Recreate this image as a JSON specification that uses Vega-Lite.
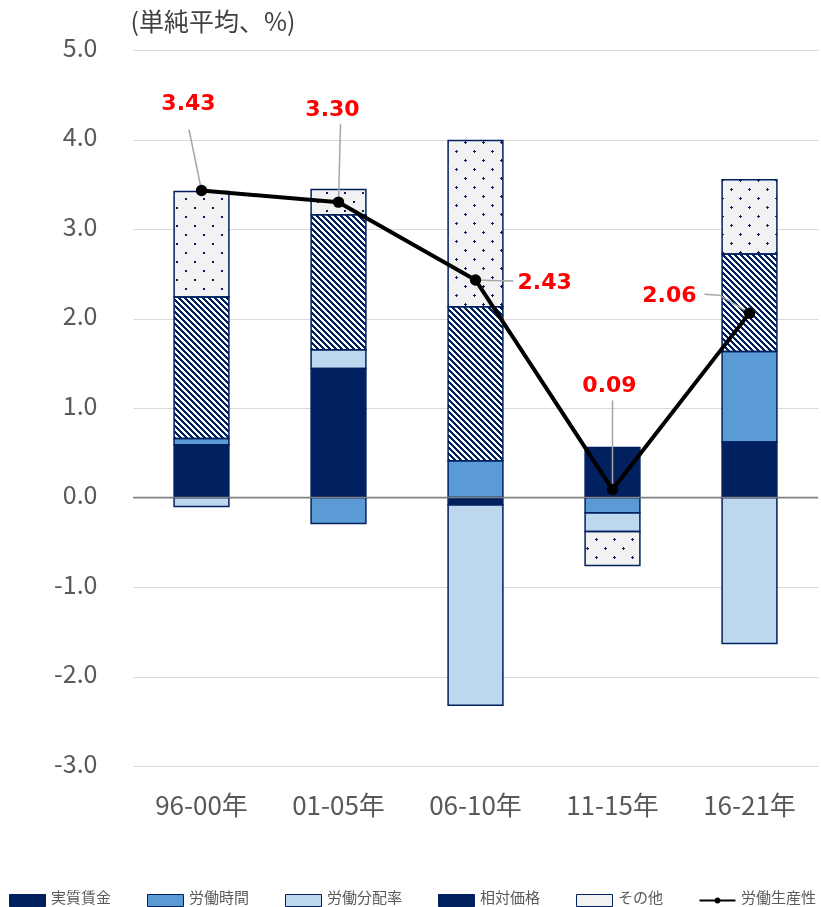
{
  "$schema": "https://vega.github.io/schema/vega-lite/v6.json",
  "width": 685,
  "height": 716,
  "autosize": {"type": "none"},
  "padding": {"left": 133, "top": 50, "right": 3, "bottom": 141},
  "background": "#ffffff",
  "config": {
    "view": {"stroke": null},
    "font": "Noto Sans CJK JP",
    "axisX": {"domain": false, "ticks": false, "grid": false, "labelPadding": 27, "labelFontSize": 26, "labelColor": "#595959", "labelAngle": 0},
    "axisY": {"domain": false, "ticks": false, "grid": true, "gridColor": "#d9d9d9", "gridWidth": 1, "labelPadding": 36, "labelFontSize": 25, "labelColor": "#595959", "labelOffset": -2,
              "titleAngle": 0, "titleAlign": "left", "titleBaseline": "alphabetic", "titleX": -3, "titleY": -20, "titleFontSize": 25, "titleFontWeight": "normal", "titleColor": "#404040"}
  },
  "params": [
    {"name": "hatchStops", "expr": "[{offset:0,color:'#002060'},{offset:1/70,color:'#002060'},{offset:1/70,color:'#fff'},{offset:2/70,color:'#fff'},{offset:2/70,color:'#002060'},{offset:3/70,color:'#002060'},{offset:3/70,color:'#fff'},{offset:4/70,color:'#fff'},{offset:4/70,color:'#002060'},{offset:5/70,color:'#002060'},{offset:5/70,color:'#fff'},{offset:6/70,color:'#fff'},{offset:6/70,color:'#002060'},{offset:7/70,color:'#002060'},{offset:7/70,color:'#fff'},{offset:8/70,color:'#fff'},{offset:8/70,color:'#002060'},{offset:9/70,color:'#002060'},{offset:9/70,color:'#fff'},{offset:10/70,color:'#fff'},{offset:10/70,color:'#002060'},{offset:11/70,color:'#002060'},{offset:11/70,color:'#fff'},{offset:12/70,color:'#fff'},{offset:12/70,color:'#002060'},{offset:13/70,color:'#002060'},{offset:13/70,color:'#fff'},{offset:14/70,color:'#fff'},{offset:14/70,color:'#002060'},{offset:15/70,color:'#002060'},{offset:15/70,color:'#fff'},{offset:16/70,color:'#fff'},{offset:16/70,color:'#002060'},{offset:17/70,color:'#002060'},{offset:17/70,color:'#fff'},{offset:18/70,color:'#fff'},{offset:18/70,color:'#002060'},{offset:19/70,color:'#002060'},{offset:19/70,color:'#fff'},{offset:20/70,color:'#fff'},{offset:20/70,color:'#002060'},{offset:21/70,color:'#002060'},{offset:21/70,color:'#fff'},{offset:22/70,color:'#fff'},{offset:22/70,color:'#002060'},{offset:23/70,color:'#002060'},{offset:23/70,color:'#fff'},{offset:24/70,color:'#fff'},{offset:24/70,color:'#002060'},{offset:25/70,color:'#002060'},{offset:25/70,color:'#fff'},{offset:26/70,color:'#fff'},{offset:26/70,color:'#002060'},{offset:27/70,color:'#002060'},{offset:27/70,color:'#fff'},{offset:28/70,color:'#fff'},{offset:28/70,color:'#002060'},{offset:29/70,color:'#002060'},{offset:29/70,color:'#fff'},{offset:30/70,color:'#fff'},{offset:30/70,color:'#002060'},{offset:31/70,color:'#002060'},{offset:31/70,color:'#fff'},{offset:32/70,color:'#fff'},{offset:32/70,color:'#002060'},{offset:33/70,color:'#002060'},{offset:33/70,color:'#fff'},{offset:34/70,color:'#fff'},{offset:34/70,color:'#002060'},{offset:35/70,color:'#002060'},{offset:35/70,color:'#fff'},{offset:36/70,color:'#fff'},{offset:36/70,color:'#002060'},{offset:37/70,color:'#002060'},{offset:37/70,color:'#fff'},{offset:38/70,color:'#fff'},{offset:38/70,color:'#002060'},{offset:39/70,color:'#002060'},{offset:39/70,color:'#fff'},{offset:40/70,color:'#fff'},{offset:40/70,color:'#002060'},{offset:41/70,color:'#002060'},{offset:41/70,color:'#fff'},{offset:42/70,color:'#fff'},{offset:42/70,color:'#002060'},{offset:43/70,color:'#002060'},{offset:43/70,color:'#fff'},{offset:44/70,color:'#fff'},{offset:44/70,color:'#002060'},{offset:45/70,color:'#002060'},{offset:45/70,color:'#fff'},{offset:46/70,color:'#fff'},{offset:46/70,color:'#002060'},{offset:47/70,color:'#002060'},{offset:47/70,color:'#fff'},{offset:48/70,color:'#fff'},{offset:48/70,color:'#002060'},{offset:49/70,color:'#002060'},{offset:49/70,color:'#fff'},{offset:50/70,color:'#fff'},{offset:50/70,color:'#002060'},{offset:51/70,color:'#002060'},{offset:51/70,color:'#fff'},{offset:52/70,color:'#fff'},{offset:52/70,color:'#002060'},{offset:53/70,color:'#002060'},{offset:53/70,color:'#fff'},{offset:54/70,color:'#fff'},{offset:54/70,color:'#002060'},{offset:55/70,color:'#002060'},{offset:55/70,color:'#fff'},{offset:56/70,color:'#fff'},{offset:56/70,color:'#002060'},{offset:57/70,color:'#002060'},{offset:57/70,color:'#fff'},{offset:58/70,color:'#fff'},{offset:58/70,color:'#002060'},{offset:59/70,color:'#002060'},{offset:59/70,color:'#fff'},{offset:60/70,color:'#fff'},{offset:60/70,color:'#002060'},{offset:61/70,color:'#002060'},{offset:61/70,color:'#fff'},{offset:62/70,color:'#fff'},{offset:62/70,color:'#002060'},{offset:63/70,color:'#002060'},{offset:63/70,color:'#fff'},{offset:64/70,color:'#fff'},{offset:64/70,color:'#002060'},{offset:65/70,color:'#002060'},{offset:65/70,color:'#fff'},{offset:66/70,color:'#fff'},{offset:66/70,color:'#002060'},{offset:67/70,color:'#002060'},{offset:67/70,color:'#fff'},{offset:68/70,color:'#fff'},{offset:68/70,color:'#002060'},{offset:69/70,color:'#002060'},{offset:69/70,color:'#fff'},{offset:1,color:'#fff'}]"},
    {"name": "dotStops", "expr": "[{offset:0,color:'#002060'},{offset:1/78,color:'#002060'},{offset:1/78,color:'#f2f2f2'},{offset:6/78,color:'#f2f2f2'},{offset:6/78,color:'#002060'},{offset:7/78,color:'#002060'},{offset:7/78,color:'#f2f2f2'},{offset:12/78,color:'#f2f2f2'},{offset:12/78,color:'#002060'},{offset:13/78,color:'#002060'},{offset:13/78,color:'#f2f2f2'},{offset:18/78,color:'#f2f2f2'},{offset:18/78,color:'#002060'},{offset:19/78,color:'#002060'},{offset:19/78,color:'#f2f2f2'},{offset:24/78,color:'#f2f2f2'},{offset:24/78,color:'#002060'},{offset:25/78,color:'#002060'},{offset:25/78,color:'#f2f2f2'},{offset:30/78,color:'#f2f2f2'},{offset:30/78,color:'#002060'},{offset:31/78,color:'#002060'},{offset:31/78,color:'#f2f2f2'},{offset:36/78,color:'#f2f2f2'},{offset:36/78,color:'#002060'},{offset:37/78,color:'#002060'},{offset:37/78,color:'#f2f2f2'},{offset:42/78,color:'#f2f2f2'},{offset:42/78,color:'#002060'},{offset:43/78,color:'#002060'},{offset:43/78,color:'#f2f2f2'},{offset:48/78,color:'#f2f2f2'},{offset:48/78,color:'#002060'},{offset:49/78,color:'#002060'},{offset:49/78,color:'#f2f2f2'},{offset:54/78,color:'#f2f2f2'},{offset:54/78,color:'#002060'},{offset:55/78,color:'#002060'},{offset:55/78,color:'#f2f2f2'},{offset:60/78,color:'#f2f2f2'},{offset:60/78,color:'#002060'},{offset:61/78,color:'#002060'},{offset:61/78,color:'#f2f2f2'},{offset:66/78,color:'#f2f2f2'},{offset:66/78,color:'#002060'},{offset:67/78,color:'#002060'},{offset:67/78,color:'#f2f2f2'},{offset:72/78,color:'#f2f2f2'},{offset:72/78,color:'#002060'},{offset:73/78,color:'#002060'},{offset:73/78,color:'#f2f2f2'},{offset:1,color:'#f2f2f2'}]"}
  ],
  "datasets": {
    "parts": [
      {"period": "96-00年", "component": "実質賃金", "order": 1, "value": 0.59},
      {"period": "96-00年", "component": "労働時間", "order": 2, "value": 0.07},
      {"period": "96-00年", "component": "労働分配率", "order": 3, "value": -0.10},
      {"period": "96-00年", "component": "相対価格", "order": 4, "value": 1.58},
      {"period": "96-00年", "component": "その他", "order": 5, "value": 1.18},
      {"period": "01-05年", "component": "実質賃金", "order": 1, "value": 1.44},
      {"period": "01-05年", "component": "労働時間", "order": 2, "value": -0.29},
      {"period": "01-05年", "component": "労働分配率", "order": 3, "value": 0.21},
      {"period": "01-05年", "component": "相対価格", "order": 4, "value": 1.51},
      {"period": "01-05年", "component": "その他", "order": 5, "value": 0.28},
      {"period": "06-10年", "component": "実質賃金", "order": 1, "value": -0.08},
      {"period": "06-10年", "component": "労働時間", "order": 2, "value": 0.41},
      {"period": "06-10年", "component": "労働分配率", "order": 3, "value": -2.24},
      {"period": "06-10年", "component": "相対価格", "order": 4, "value": 1.72},
      {"period": "06-10年", "component": "その他", "order": 5, "value": 1.86},
      {"period": "11-15年", "component": "実質賃金", "order": 1, "value": 0.56},
      {"period": "11-15年", "component": "労働時間", "order": 2, "value": -0.17},
      {"period": "11-15年", "component": "労働分配率", "order": 3, "value": -0.21},
      {"period": "11-15年", "component": "その他", "order": 5, "value": -0.38},
      {"period": "16-21年", "component": "実質賃金", "order": 1, "value": 0.62},
      {"period": "16-21年", "component": "労働時間", "order": 2, "value": 1.01},
      {"period": "16-21年", "component": "労働分配率", "order": 3, "value": -1.63},
      {"period": "16-21年", "component": "相対価格", "order": 4, "value": 1.09},
      {"period": "16-21年", "component": "その他", "order": 5, "value": 0.83}
    ],
    "prod": [
      {"period": "96-00年", "prod": 3.43},
      {"period": "01-05年", "prod": 3.30},
      {"period": "06-10年", "prod": 2.43},
      {"period": "11-15年", "prod": 0.09},
      {"period": "16-21年", "prod": 2.06}
    ]
  },
  "layer": [
    {
      "data": {"name": "parts"},
      "transform": [
        {"stack": "value", "groupby": ["period"], "sort": [{"field": "order", "order": "ascending"}], "as": ["v0", "v1"]}
      ],
      "layer": [
        {
          "mark": {"type": "bar"},
          "encoding": {
            "x": {"field": "period", "type": "nominal", "title": null, "sort": ["96-00年", "01-05年", "06-10年", "11-15年", "16-21年"], "scale": {"paddingInner": 0.6, "paddingOuter": 0.3}},
            "y": {
              "field": "v1", "type": "quantitative", "title": "(単純平均、%)",
              "scale": {"domain": [-3, 5], "nice": false, "zero": false},
              "axis": {
                "values": [-3, -2, -1, 0, 1, 2, 3, 4, 5],
                "labelExpr": "(datum.value < 0 ? '-' : '') + format(abs(datum.value), '.1f')"
              }
            },
            "y2": {"field": "v0"},
            "color": {
              "field": "component", "type": "nominal",
              "scale": {
                "domain": ["実質賃金", "労働時間", "労働分配率", "相対価格", "その他", "労働生産性"],
                "range": ["#002060", "#5b9bd5", "#bdd7ee", "#002060", "#f2f2f2", "#000000"]
              },
              "legend": {
                "title": null, "orient": "none", "legendX": -124, "legendY": 832,
                "direction": "horizontal", "columns": 6, "columnPadding": 33, "gridAlign": "none",
                "symbolSize": 1296, "labelFontSize": 15, "labelColor": "#595959", "labelOffset": 5, "labelLimit": 200,
                "encode": {
                  "labels": {"update": {"dy": {"value": -3}}},
                  "symbols": {
                    "update": {
                      "shape": [
                        {"test": "datum.value === '労働生産性'", "value": "M-1,-0.06H1V0.06H-1Z M0.17,0A0.17,0.17,0,1,1,-0.17,0A0.17,0.17,0,1,1,0.17,0Z"},
                        {"value": "M-1,-0.3333H1V0.3333H-1Z"}
                      ],
                      "stroke": [
                        {"test": "datum.value === '労働生産性'", "value": "transparent"},
                        {"value": "#002060"}
                      ],
                      "strokeWidth": {"value": 1},
                      "opacity": {"value": 1},
                      "fillOpacity": {"value": 1}
                    }
                  }
                }
              }
            }
          }
        },
        {
          "transform": [{"filter": "datum.component === '相対価格'"}],
          "mark": {"type": "bar", "fill": {"expr": "{gradient:'linear',x1:0,y1:1,x2:210*bandwidth('x')/(pow(bandwidth('x'),2)+pow(scale('y',datum.v0)-scale('y',datum.v1),2)),y2:1-210*abs(scale('y',datum.v0)-scale('y',datum.v1))/(pow(bandwidth('x'),2)+pow(scale('y',datum.v0)-scale('y',datum.v1),2)),stops:hatchStops}"}},
          "encoding": {
            "x": {"field": "period", "type": "nominal", "title": null, "sort": ["96-00年", "01-05年", "06-10年", "11-15年", "16-21年"]},
            "y": {"field": "v1", "type": "quantitative", "title": "(単純平均、%)"},
            "y2": {"field": "v0"}
          }
        },
        {
          "transform": [{"filter": "datum.component === 'その他'"}],
          "mark": {"type": "bar", "fill": {"expr": "{gradient:'linear',x1:0,y1:1,x2:234*bandwidth('x')/(pow(bandwidth('x'),2)+pow(scale('y',datum.v0)-scale('y',datum.v1),2)),y2:1-234*abs(scale('y',datum.v0)-scale('y',datum.v1))/(pow(bandwidth('x'),2)+pow(scale('y',datum.v0)-scale('y',datum.v1),2)),stops:dotStops}"}},
          "encoding": {
            "x": {"field": "period", "type": "nominal", "title": null, "sort": ["96-00年", "01-05年", "06-10年", "11-15年", "16-21年"]},
            "y": {"field": "v1", "type": "quantitative", "title": "(単純平均、%)"},
            "y2": {"field": "v0"}
          }
        },
        {
          "transform": [{"filter": "datum.component === 'その他'"}],
          "mark": {"type": "bar", "blend": "lighten", "fill": {"expr": "{gradient:'linear',x1:0,y1:0,x2:234*bandwidth('x')/(pow(bandwidth('x'),2)+pow(scale('y',datum.v0)-scale('y',datum.v1),2)),y2:234*abs(scale('y',datum.v0)-scale('y',datum.v1))/(pow(bandwidth('x'),2)+pow(scale('y',datum.v0)-scale('y',datum.v1),2)),stops:dotStops}"}},
          "encoding": {
            "x": {"field": "period", "type": "nominal", "title": null, "sort": ["96-00年", "01-05年", "06-10年", "11-15年", "16-21年"]},
            "y": {"field": "v1", "type": "quantitative", "title": "(単純平均、%)"},
            "y2": {"field": "v0"}
          }
        },
        {
          "mark": {"type": "bar", "fill": "transparent", "stroke": "#002060", "strokeWidth": 1.5},
          "encoding": {
            "x": {"field": "period", "type": "nominal", "title": null, "sort": ["96-00年", "01-05年", "06-10年", "11-15年", "16-21年"]},
            "y": {"field": "v1", "type": "quantitative", "title": "(単純平均、%)"},
            "y2": {"field": "v0"}
          }
        }
      ]
    },
    {
      "data": {"values": [{}]},
      "mark": {"type": "rule", "color": "#808080", "strokeWidth": 1.5},
      "encoding": {"y": {"datum": 0, "type": "quantitative", "title": "(単純平均、%)"}}
    },
    {
      "data": {"name": "prod"},
      "layer": [
        {
          "transform": [{"filter": "datum.period === '96-00年'"}],
          "mark": {"type": "rule", "color": "#a6a6a6", "strokeWidth": 1.5, "x2Offset": -12.5, "y2Offset": -61},
          "encoding": {
            "x": {"field": "period", "type": "nominal", "title": null, "sort": ["96-00年", "01-05年", "06-10年", "11-15年", "16-21年"]},
            "x2": {"field": "period"},
            "y": {"field": "prod", "type": "quantitative", "title": "(単純平均、%)"},
            "y2": {"field": "prod"}
          }
        },
        {
          "transform": [{"filter": "datum.period === '01-05年'"}],
          "mark": {"type": "rule", "color": "#a6a6a6", "strokeWidth": 1.5, "x2Offset": 2, "y2Offset": -78},
          "encoding": {
            "x": {"field": "period", "type": "nominal", "title": null, "sort": ["96-00年", "01-05年", "06-10年", "11-15年", "16-21年"]},
            "x2": {"field": "period"},
            "y": {"field": "prod", "type": "quantitative", "title": "(単純平均、%)"},
            "y2": {"field": "prod"}
          }
        },
        {
          "transform": [{"filter": "datum.period === '06-10年'"}],
          "mark": {"type": "rule", "color": "#a6a6a6", "strokeWidth": 1.5, "x2Offset": 38, "y2Offset": 1},
          "encoding": {
            "x": {"field": "period", "type": "nominal", "title": null, "sort": ["96-00年", "01-05年", "06-10年", "11-15年", "16-21年"]},
            "x2": {"field": "period"},
            "y": {"field": "prod", "type": "quantitative", "title": "(単純平均、%)"},
            "y2": {"field": "prod"}
          }
        },
        {
          "transform": [{"filter": "datum.period === '11-15年'"}],
          "mark": {"type": "rule", "color": "#a6a6a6", "strokeWidth": 1.5, "y2Offset": -89},
          "encoding": {
            "x": {"field": "period", "type": "nominal", "title": null, "sort": ["96-00年", "01-05年", "06-10年", "11-15年", "16-21年"]},
            "x2": {"field": "period"},
            "y": {"field": "prod", "type": "quantitative", "title": "(単純平均、%)"},
            "y2": {"field": "prod"}
          }
        },
        {
          "transform": [{"filter": "datum.period === '16-21年'"}],
          "mark": {"type": "rule", "color": "#a6a6a6", "strokeWidth": 1.5, "x2Offset": -30, "y2Offset": -18},
          "encoding": {
            "x": {"field": "period", "type": "nominal", "title": null, "sort": ["96-00年", "01-05年", "06-10年", "11-15年", "16-21年"]},
            "x2": {"field": "period"},
            "y": {"field": "prod", "type": "quantitative", "title": "(単純平均、%)"},
            "y2": {"field": "prod"}
          }
        },
        {
          "transform": [{"filter": "datum.period === '16-21年'"}],
          "mark": {"type": "rule", "color": "#a6a6a6", "strokeWidth": 1.5, "xOffset": -30, "yOffset": -18, "x2Offset": -45, "y2Offset": -19},
          "encoding": {
            "x": {"field": "period", "type": "nominal", "title": null, "sort": ["96-00年", "01-05年", "06-10年", "11-15年", "16-21年"]},
            "x2": {"field": "period"},
            "y": {"field": "prod", "type": "quantitative", "title": "(単純平均、%)"},
            "y2": {"field": "prod"}
          }
        },
        {
          "mark": {"type": "line", "color": "#000000", "strokeWidth": 4},
          "encoding": {
            "x": {"field": "period", "type": "nominal", "title": null, "sort": ["96-00年", "01-05年", "06-10年", "11-15年", "16-21年"]},
            "y": {"field": "prod", "type": "quantitative", "title": "(単純平均、%)"}
          }
        },
        {
          "mark": {"type": "point", "filled": true, "color": "#000000", "size": 130, "opacity": 1},
          "encoding": {
            "x": {"field": "period", "type": "nominal", "title": null, "sort": ["96-00年", "01-05年", "06-10年", "11-15年", "16-21年"]},
            "y": {"field": "prod", "type": "quantitative", "title": "(単純平均、%)"}
          }
        },
        {
          "transform": [{"filter": "datum.period === '96-00年'"}],
          "mark": {"type": "text", "font": "DejaVu Sans", "fontWeight": "bold", "fontSize": 22, "color": "#ff0000", "align": "center", "baseline": "alphabetic", "dx": -13, "dy": -81},
          "encoding": {
            "x": {"field": "period", "type": "nominal", "title": null, "sort": ["96-00年", "01-05年", "06-10年", "11-15年", "16-21年"]},
            "y": {"field": "prod", "type": "quantitative", "title": "(単純平均、%)"},
            "text": {"field": "prod", "type": "quantitative", "format": ".2f"}
          }
        },
        {
          "transform": [{"filter": "datum.period === '01-05年'"}],
          "mark": {"type": "text", "font": "DejaVu Sans", "fontWeight": "bold", "fontSize": 22, "color": "#ff0000", "align": "center", "baseline": "alphabetic", "dx": -6, "dy": -86},
          "encoding": {
            "x": {"field": "period", "type": "nominal", "title": null, "sort": ["96-00年", "01-05年", "06-10年", "11-15年", "16-21年"]},
            "y": {"field": "prod", "type": "quantitative", "title": "(単純平均、%)"},
            "text": {"field": "prod", "type": "quantitative", "format": ".2f"}
          }
        },
        {
          "transform": [{"filter": "datum.period === '06-10年'"}],
          "mark": {"type": "text", "font": "DejaVu Sans", "fontWeight": "bold", "fontSize": 22, "color": "#ff0000", "align": "left", "baseline": "alphabetic", "dx": 42, "dy": 9},
          "encoding": {
            "x": {"field": "period", "type": "nominal", "title": null, "sort": ["96-00年", "01-05年", "06-10年", "11-15年", "16-21年"]},
            "y": {"field": "prod", "type": "quantitative", "title": "(単純平均、%)"},
            "text": {"field": "prod", "type": "quantitative", "format": ".2f"}
          }
        },
        {
          "transform": [{"filter": "datum.period === '11-15年'"}],
          "mark": {"type": "text", "font": "DejaVu Sans", "fontWeight": "bold", "fontSize": 22, "color": "#ff0000", "align": "center", "baseline": "alphabetic", "dx": -3, "dy": -97},
          "encoding": {
            "x": {"field": "period", "type": "nominal", "title": null, "sort": ["96-00年", "01-05年", "06-10年", "11-15年", "16-21年"]},
            "y": {"field": "prod", "type": "quantitative", "title": "(単純平均、%)"},
            "text": {"field": "prod", "type": "quantitative", "format": ".2f"}
          }
        },
        {
          "transform": [{"filter": "datum.period === '16-21年'"}],
          "mark": {"type": "text", "font": "DejaVu Sans", "fontWeight": "bold", "fontSize": 22, "color": "#ff0000", "align": "right", "baseline": "alphabetic", "dx": -53, "dy": -11},
          "encoding": {
            "x": {"field": "period", "type": "nominal", "title": null, "sort": ["96-00年", "01-05年", "06-10年", "11-15年", "16-21年"]},
            "y": {"field": "prod", "type": "quantitative", "title": "(単純平均、%)"},
            "text": {"field": "prod", "type": "quantitative", "format": ".2f"}
          }
        }
      ]
    }
  ]
}
